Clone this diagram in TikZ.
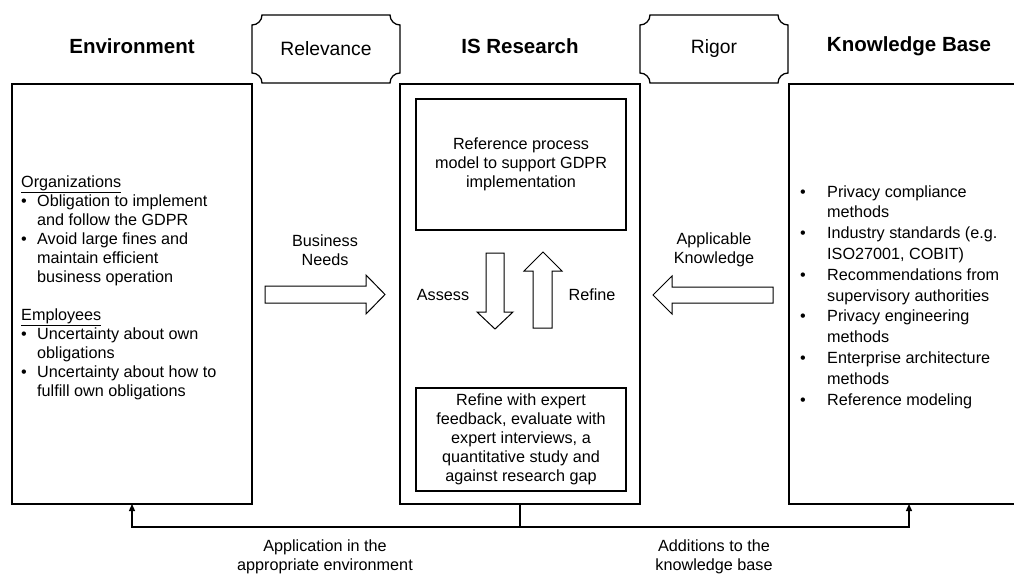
\documentclass[tikz,border=0pt]{standalone}
\usepackage{fontspec}
\setmainfont{Liberation Sans}
\usetikzlibrary{arrows.meta}

% bullets with hanging indents for the two side columns
\newcommand\envbul{\makebox[16pt][l]{\textbullet}}
\newcommand\envind{\hspace*{16pt}}
\newcommand\kbbul{\makebox[27pt][l]{\textbullet}}
\newcommand\kbind{\hspace*{27pt}}

% label with concave (plaque) corners drawn round a named node
\newcommand\plaqueframe[1]{%
  \draw[frame]
    ([xshift=10pt]#1.north west) -- ([xshift=-10pt]#1.north east)
    .. controls +(0,5.5) and +(-5.5,0) .. ([yshift=-10pt]#1.north east)
    -- ([yshift=10pt]#1.south east)
    .. controls +(-5.5,0) and +(0,-5.5) .. ([xshift=-10pt]#1.south east)
    -- ([xshift=10pt]#1.south west)
    .. controls +(0,-5.5) and +(5.5,0) .. ([yshift=10pt]#1.south west)
    -- ([yshift=-10pt]#1.north west)
    .. controls +(5.5,0) and +(0,5.5) .. ([xshift=10pt]#1.north west)
    -- cycle;}

\begin{document}
\begin{tikzpicture}[x=1pt,y=-1pt,
  frame/.style={draw, line width=1.3pt, inner sep=0pt, outer sep=0pt},
  body/.style={font=\fontsize{16.2}{19}\selectfont, inner sep=0pt},
  kbbody/.style={font=\fontsize{16.2}{20.8}\selectfont, inner sep=0pt},
  title/.style={font=\fontsize{20.5}{24}\selectfont\bfseries, inner sep=0pt},
  tag/.style={font=\fontsize{19.3}{22}\selectfont, inner sep=0pt, outer sep=0pt},
  blockarrow/.style={draw, line width=1pt, fill=white, line join=miter},
  trunk/.style={draw, line width=1.5pt},
  link/.style={draw, line width=1.3pt, -{Triangle[length=7pt,width=6pt]}},
]
\useasboundingbox (0,0) rectangle (1014,576);
\clip (0,0) rectangle (1014,576);

% column headings
\node[title] (envtitle) at (132,46) {Environment};
\node[title] (istitle)  at (520,46) {IS Research};
\node[title] (kbtitle)  at (909,46) {Knowledge Base};

% relevance / rigor plaques
\node[tag, minimum width=148pt, minimum height=68pt] (rel) at (326,49) {Relevance};
\node[tag, minimum width=148pt, minimum height=68pt] (rig) at (714,49) {Rigor};
\plaqueframe{rel}
\plaqueframe{rig}

% the three columns
\node[frame, minimum width=240pt, minimum height=420pt] (env) at (132,294) {};
\node[frame, minimum width=240pt, minimum height=420pt] (is)  at (520,294) {};
\node[frame, minimum width=240pt, minimum height=420pt] (kb)  at (909,294) {};

% inner boxes of IS research
\node[frame, body, minimum width=210pt, minimum height=131pt, align=center]
  (model) at (521,164.5) {Reference process\\model to support GDPR\\implementation};
\node[frame, body, minimum width=210pt, minimum height=103pt, align=center]
  (eval) at (521,439.5) {Refine with expert\\feedback, evaluate with\\expert interviews, a\\quantitative study and\\against research gap};

% environment column text
\node[body, align=left, anchor=west] (envtext) at (21,288) {%
  \underline{Organizations}\\
  \envbul Obligation to implement\\
  \envind and follow the GDPR\\
  \envbul Avoid large fines and\\
  \envind maintain efficient\\
  \envind business operation\\[19pt]
  \underline{Employees}\\
  \envbul Uncertainty about own\\
  \envind obligations\\
  \envbul Uncertainty about how to\\
  \envind fulfill own obligations};

% knowledge base column text
\node[kbbody, align=left, anchor=west] (kbtext) at (800,297) {%
  \kbbul Privacy compliance\\
  \kbind methods\\
  \kbbul Industry standards (e.g.\\
  \kbind ISO27001, COBIT)\\
  \kbbul Recommendations from\\
  \kbind supervisory authorities\\
  \kbbul Privacy engineering\\
  \kbind methods\\
  \kbbul Enterprise architecture\\
  \kbind methods\\
  \kbbul Reference modeling};

% block arrows between the columns
\draw[blockarrow] (265,286) -- (366,286) -- (366,275) -- (385,294.5)
  -- (366,314) -- (366,303) -- (265,303) -- cycle;
\draw[blockarrow] (773,287) -- (672,287) -- (672,276) -- (653,295)
  -- (672,314) -- (672,303) -- (773,303) -- cycle;
\node[body, align=center] (needs) at (325,250) {Business\\Needs};
\node[body, align=center] (appl) at (714,250) {Applicable\\Knowledge};

% assess / refine cycle
\draw[blockarrow] (486,253) -- (504,253) -- (504,312) -- (513,312) -- (495,329)
  -- (477,312) -- (486,312) -- cycle;
\draw[blockarrow] (533,328) -- (552,328) -- (552,271) -- (562,271) -- (543,252)
  -- (524,271) -- (533,271) -- cycle;
\node[body] (assess) at (443,295) {Assess};
\node[body] (refine) at (592,295) {Refine};

% feedback to environment and knowledge base
\draw[trunk] (is.south) -- ++(0,23) coordinate (split);
\draw[link] (split) -| (env.south);
\draw[link] (split) -| (kb.south);
\node[body, align=center] (applic) at (325,557) {Application in the\\appropriate environment};
\node[body, align=center] (addit) at (714,557) {Additions to the\\knowledge base};
\end{tikzpicture}
\end{document}
